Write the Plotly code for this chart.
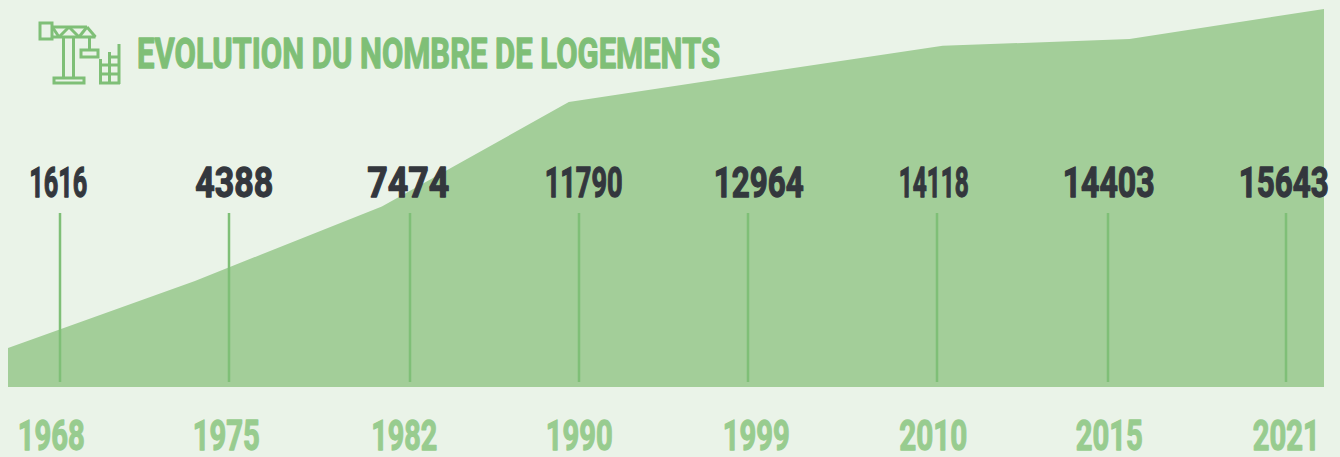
import json
import plotly.graph_objects as go

years = ["1968", "1975", "1982", "1990", "1999", "2010", "2015", "2021"]
logements = [1616, 4388, 7474, 11790, 12964, 14118, 14403, 15643]
slots = [0, 1, 2, 3, 4, 5, 6, 7.04]
title_text = "EVOLUTION DU NOMBRE DE LOGEMENTS"

W, H = 1340, 457
L, R, T, B = 8, 16, 9, 70
BG = "#EAF3E8"
AREA = "#A3CE99"
LINE = "#7FBF77"
YEAR = "#98CC8F"
DARK = "#33373D"
FONT = "Roboto"
SIZE = 43

value_span = [(29, 87), (195, 273), (367, 449), (544, 622), (713, 803), (898, 968), (1062, 1154), (1238, 1328)]
year_span = [(18, 85), (193, 260), (371, 437), (546, 613), (723, 790), (900, 968), (1076, 1143), (1253, 1320)]
title_span = (137, 720)
stem_x = [60, 229, 410, 579, 748, 937, 1108, 1286]


def px(x):
    return (x - L) / (W - L - R)


def py(y):
    return (H - B - y) / (H - T - B)


fig = go.Figure(
    go.Scatter(
        x=slots,
        y=logements,
        mode="lines",
        line=dict(width=0, color=AREA),
        fill="tozeroy",
        fillcolor=AREA,
        hoverinfo="skip",
    )
)

shapes = []


def seg(x0, y0, x1, y1, width=3):
    shapes.append(dict(type="line", xref="paper", yref="paper", x0=px(x0), x1=px(x1),
                       y0=py(y0), y1=py(y1), line=dict(color=LINE, width=width)))


def box(x0, y0, x1, y1):
    shapes.append(dict(type="rect", xref="paper", yref="paper", x0=px(x0), x1=px(x1),
                       y0=py(y0), y1=py(y1), line=dict(color=LINE, width=3)))


for x in stem_x:
    seg(x, 213, x, 382, 2.5)

box(40, 23, 52, 39)
box(54, 78, 84, 83)
box(81, 50, 98, 57)
for s in [
    (52, 27, 87, 27), (52, 37, 95.5, 37), (87, 27, 95.5, 37),
    (53, 28, 59, 37), (59, 37, 69, 27), (69, 27, 79, 37), (79, 37, 87, 27),
    (63.5, 37, 63.5, 78), (73.5, 37, 73.5, 78),
    (89.5, 37, 89.5, 50),
    (100.5, 84, 100.5, 59), (109.5, 84, 109.5, 52), (119, 84, 119, 44),
    (99, 83, 120, 83), (100.5, 74, 119, 74), (100.5, 65, 119, 65), (109.5, 57, 119, 57),
]:
    seg(*s)

annotations = []
spans = []


def label(text, span, y, color):
    annotations.append(dict(text=text, xref="paper", yref="paper", x=px(sum(span) / 2), y=py(y),
                            xanchor="center", yanchor="middle", showarrow=False,
                            font=dict(family=FONT, size=SIZE, color=color, weight=700)))
    spans.append(span[1] - span[0])


label(title_text, title_span, 52.5, LINE)
for v, s in zip(logements, value_span):
    label(str(v), s, 182, DARK)
for y, s in zip(years, year_span):
    label(y, s, 435, YEAR)

fig.update_layout(
    width=W, height=H, autosize=False,
    margin=dict(l=L, r=R, t=T, b=B, pad=0),
    paper_bgcolor=BG, plot_bgcolor="rgba(0,0,0,0)",
    showlegend=False,
    xaxis=dict(range=[0, slots[-1]], visible=False, fixedrange=True),
    yaxis=dict(range=[0, max(logements)], visible=False, fixedrange=True),
    shapes=shapes,
    annotations=annotations,
)

post = """
document.body.style.margin = '0';
document.body.style.background = '%s';
var widths = %s;
document.querySelectorAll('.annotation-text').forEach(function (t, i) {
  t.setAttribute('textLength', widths[i]);
  t.setAttribute('lengthAdjust', 'spacingAndGlyphs');
  t.style.stroke = t.style.fill;
  t.style.strokeWidth = '1.3px';
  t.style.strokeLinejoin = 'round';
});
""" % (BG, json.dumps(spans))
fig.write_html("out.html", config={"displayModeBar": False}, post_script=post)
